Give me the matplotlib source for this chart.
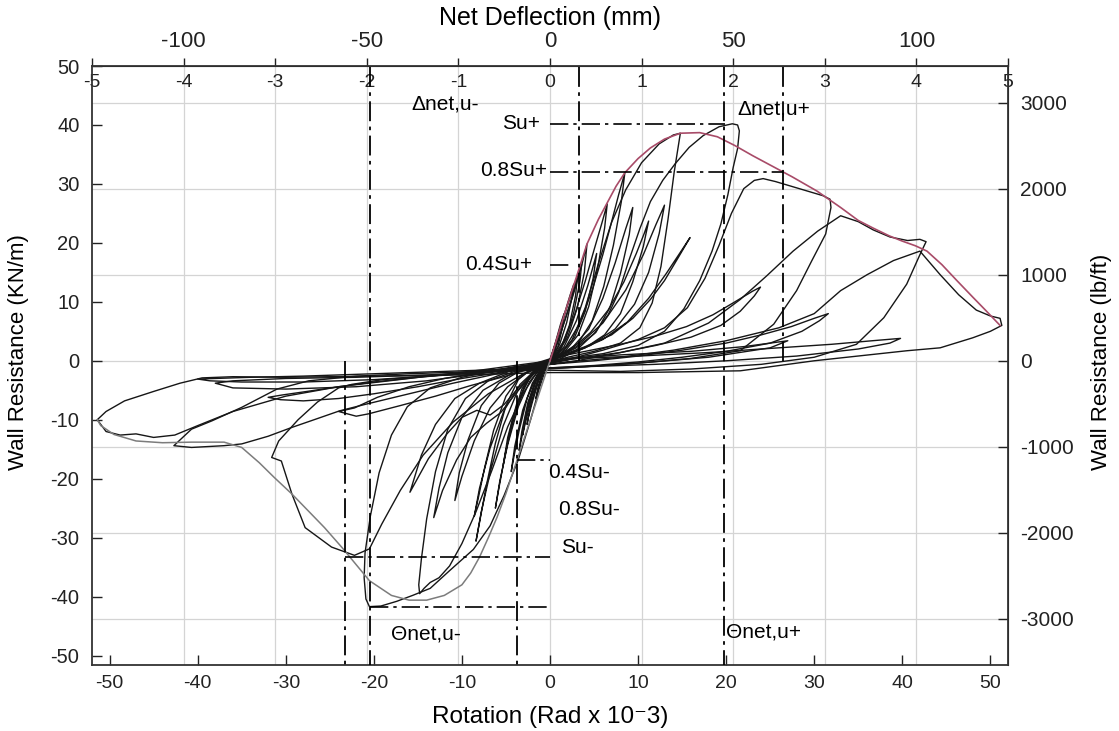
import matplotlib
matplotlib.use("Agg")
import matplotlib.pyplot as plt
from matplotlib import font_manager

# ---------------------------------------------------------------- fonts
available = {f.name for f in font_manager.fontManager.ttflist}
BASE = "Liberation Sans" if "Liberation Sans" in available else "DejaVu Sans"
plt.rcParams["font.family"] = [BASE, "DejaVu Sans"]
plt.rcParams["axes.unicode_minus"] = False

# ---------------------------------------------------------------- unit conversions
ROT_PER_IN = 10.4      # rotation (rad x 1e-3) per inch of net deflection
MM_PER_IN = 25.0
LBFT_PER_KNM = 68.52

# ---------------------------------------------------------------- axis ticks
rot_ticks = [-50, -40, -30, -20, -10, 0, 10, 20, 30, 40, 50]
kn_ticks = [-50, -40, -30, -20, -10, 0, 10, 20, 30, 40, 50]
mm_ticks = [-125, -100, -75, -50, -25, 0, 25, 50, 75, 100, 125]
mm_labels = ["", "-100", "", "-50", "", "0", "", "50", "", "100", ""]
inch_ticks = [-5, -4, -3, -2, -1, 0, 1, 2, 3, 4, 5]
lbft_ticks = [-3000, -2000, -1000, 0, 1000, 2000, 3000]

# ---------------------------------------------------------------- hysteresis cycles (rotation, resistance kN/m)
cycle_01 = [(0, 0), (0.8, 3.8), (1.6, 7.8), (2.3, 11.2), (2.7, 13.0), (2.5, 10.8), (1.9, 6.5), (1.1, 2.8),
            (0.3, 0.6), (-0.5, -0.8), (-1.3, -3.5), (-2.0, -7.0), (-2.5, -9.8), (-2.6, -10.8), (-2.2, -7.5),
            (-1.5, -3.8), (-0.7, -1.2), (0, 0)]
cycle_02 = [(0, 0.3), (1, 4.5), (2, 9.4), (3, 13.8), (3.6, 16.4), (3.4, 13.5), (2.7, 8.2), (1.8, 3.8),
            (0.8, 1.2), (-0.4, -0.5), (-1.4, -2.6), (-2.3, -6.8), (-3.0, -11.5), (-3.5, -15.2), (-3.2, -12.0),
            (-2.5, -7.0), (-1.6, -3.2), (-0.6, -0.9), (0.4, 0.9)]
cycle_03 = [(0.4, 0.9), (1.4, 5.6), (2.6, 11.0), (3.5, 15.6), (4.2, 19.8), (3.9, 15.0), (3.1, 9.0), (2.0, 4.0),
            (0.9, 1.3), (-0.3, -0.4), (-1.5, -2.5), (-2.6, -6.4), (-3.5, -11.8), (-4.1, -16.3), (-4.4, -18.8),
            (-4.0, -14.5), (-3.1, -8.4), (-2.0, -3.8), (-0.8, -1.0), (0.3, 0.5)]
cycle_04 = [(0.3, 0.5), (1.5, 3.2), (2.8, 7.8), (4.0, 13.5), (5.0, 18.8), (5.9, 23.4), (6.5, 26.6), (6.2, 22.5),
            (5.4, 15.6), (4.4, 9.2), (3.2, 4.4), (1.8, 1.8), (0.5, 0.6), (-0.8, -0.6), (-2.0, -2.0), (-3.2, -4.8),
            (-4.3, -10.2), (-5.2, -16.8), (-5.8, -21.6), (-6.2, -25.0), (-5.7, -20.4), (-4.8, -14.2), (-3.6, -7.8),
            (-2.3, -3.5), (-1.0, -1.2), (0.2, 0.1)]
cycle_05 = [(0.2, 0.1), (1.8, 2.4), (3.4, 6.4), (4.8, 12.0), (6.0, 18.0), (7.0, 23.6), (7.8, 28.2), (8.5, 31.9),
            (8.1, 27.0), (7.2, 19.6), (6.1, 12.6), (4.8, 6.8), (3.2, 3.0), (1.4, 1.2), (-0.4, 0.0), (-2.0, -1.2),
            (-3.6, -3.2), (-5.0, -7.6), (-6.2, -14.0), (-7.2, -21.0), (-7.9, -26.6), (-8.4, -30.6), (-7.8, -25.6),
            (-6.7, -18.4), (-5.3, -11.0), (-3.7, -5.2), (-2.0, -2.0), (-0.5, -0.4), (0.6, 0.4)]
cycle_06 = [(0.6, 0.4), (2.6, 2.2), (4.6, 4.8), (6.6, 8.6), (8.4, 13.4), (9.8, 18.2), (10.7, 21.6), (11.2, 23.7),
            (10.6, 19.4), (9.4, 13.4), (8.0, 8.0), (6.2, 4.4), (4.0, 2.2), (1.5, 0.8), (-1.0, -0.4), (-3.5, -1.8),
            (-5.8, -3.8), (-7.8, -7.6), (-9.3, -13.4), (-10.3, -19.0), (-10.8, -23.7), (-10.0, -19.6),
            (-8.6, -13.6), (-6.8, -8.0), (-4.8, -4.4), (-2.6, -2.0), (-0.4, -0.3), (0.8, 0.3)]
cycle_07 = [(0.8, 0.3), (2.5, 3.5), (4.0, 9.0), (5.5, 16.5), (7.0, 23.5), (8.6, 29.0), (10.4, 33.6), (12.4, 36.8),
            (14.0, 38.3), (14.8, 38.6), (14.1, 32.0), (13.4, 24.0), (12.6, 16.0), (11.6, 9.8), (10.2, 5.6),
            (8.0, 3.0), (5.0, 1.6), (2.0, 0.6), (-1.0, -0.6), (-4.0, -1.8), (-7.0, -3.4), (-9.6, -6.4),
            (-11.6, -11.6), (-13.0, -18.8), (-14.0, -26.8), (-14.6, -33.6), (-14.9, -38.0), (-14.8, -39.5),
            (-14.3, -38.6), (-13.6, -37.6), (-12.6, -36.8), (-11.4, -34.8), (-10.0, -31.0), (-8.4, -25.6),
            (-6.6, -18.6), (-4.8, -11.2), (-3.0, -5.4), (-1.4, -1.8), (0.0, 0.0)]
cycle_08 = [(0.0, 0.0), (3.0, 1.6), (6.0, 3.6), (8.8, 6.6), (11.2, 10.6), (13.2, 14.8), (14.8, 18.4), (15.9, 20.9),
            (14.6, 17.6), (13.0, 13.6), (11.4, 10.4), (9.4, 7.2), (7.0, 4.4), (4.0, 2.4), (1.0, 0.8), (-2.0, -0.6),
            (-5.0, -2.0), (-8.0, -3.8), (-10.8, -6.4), (-13.0, -10.8), (-14.6, -16.0), (-15.9, -22.3),
            (-13.8, -16.6), (-11.7, -12.4), (-10.0, -9.6), (-8.3, -8.4), (-6.8, -9.2), (-5.2, -7.4), (-3.6, -4.6),
            (-2.0, -2.4), (-0.4, -0.6), (1.0, 0.2)]
cycle_09 = [(1.0, 0.2), (3.0, 1.8), (5.0, 4.6), (6.6, 7.8), (7.8, 11.6), (9.0, 17.2), (10.2, 22.4), (11.4, 27.0),
            (12.8, 30.6), (14.2, 33.4), (15.8, 36.2), (17.4, 38.2), (19.2, 39.7), (20.7, 40.2), (21.3, 40.0),
            (21.5, 39.0), (21.3, 36.0), (20.8, 32.8), (20.2, 28.2), (19.4, 23.2), (18.4, 18.6), (17.0, 13.6),
            (15.2, 8.8), (13.0, 5.0), (10.0, 2.6), (6.0, 1.2), (2.0, 0.4), (-2.0, -0.6), (-6.0, -1.6),
            (-10.0, -2.8), (-13.6, -4.6), (-16.2, -7.8), (-18.0, -12.6), (-19.4, -19.0), (-20.4, -26.4),
            (-21.0, -32.6), (-21.1, -36.8), (-20.9, -40.4), (-20.5, -41.7), (-19.2, -41.6), (-17.4, -40.8),
            (-15.6, -39.8), (-13.6, -38.6), (-11.4, -35.6), (-8.7, -32.0), (-6.8, -28.0), (-5.2, -22.8),
            (-3.6, -16.8), (-2.2, -10.0), (-1.2, -4.6), (-0.4, -1.0), (0.6, 0.6)]
cycle_10 = [(0.6, 0.6), (4.0, 1.6), (8.0, 2.8), (12.0, 4.2), (15.5, 5.8), (18.5, 7.8), (21.0, 10.0), (23.0, 11.8),
            (23.9, 12.5), (23.2, 11.0), (21.6, 8.4), (19.4, 6.0), (16.0, 4.0), (12.0, 2.6), (8.0, 1.4), (4.0, 0.6),
            (0.0, -0.2), (-4.0, -1.0), (-8.0, -2.0), (-12.0, -3.0), (-16.0, -4.4), (-19.6, -6.2), (-22.2, -8.0),
            (-24.0, -8.6), (-23.0, -9.0), (-22.0, -9.4), (-20.6, -9.0), (-17.0, -7.6), (-13.0, -6.0),
            (-9.0, -4.2), (-5.0, -2.6), (-1.0, -0.8), (2.0, 0.2)]
cycle_11 = [(2.0, 0.2), (6.0, 1.8), (10.0, 3.6), (13.0, 5.6), (15.6, 9.0), (17.6, 14.0), (19.2, 19.6),
            (20.6, 25.0), (22.0, 29.2), (23.2, 30.6), (24.2, 30.9), (25.6, 30.4), (27.4, 29.6), (29.2, 28.8),
            (31.0, 28.0), (31.8, 27.4), (31.9, 26.0), (31.3, 21.5), (29.7, 16.9), (28.0, 11.9), (25.4, 6.2),
            (21.6, 1.7), (16.0, 0.4), (10.0, -0.4), (4.0, -1.0), (-2.0, -1.4), (-8.0, -2.0), (-14.0, -2.6),
            (-19.0, -3.2), (-22.5, -4.0), (-24.0, -4.6), (-26.4, -7.0), (-28.6, -10.0), (-30.8, -13.6),
            (-31.6, -16.4), (-30.5, -17.0), (-29.3, -22.6), (-27.8, -28.3), (-24.8, -31.6), (-22.2, -33.0),
            (-20.5, -31.9), (-19.1, -27.7), (-17.0, -22.0), (-14.4, -16.0), (-11.0, -10.4), (-7.0, -5.6),
            (-3.0, -2.2), (0.0, -0.6)]
cycle_12 = [(0.0, -0.6), (5.0, 0.0), (10.0, 0.8), (15.0, 1.8), (20.0, 3.0), (24.0, 4.4), (27.4, 5.8), (30.0, 7.2),
            (31.6, 8.0), (30.6, 6.8), (28.6, 5.0), (25.0, 3.0), (20.0, 1.6), (15.0, 0.6), (10.0, -0.2),
            (5.0, -0.8), (0.0, -1.2), (-5.0, -1.6), (-10.0, -2.2), (-15.0, -2.8), (-20.0, -3.6), (-24.0, -4.4),
            (-27.6, -5.2), (-30.4, -5.8), (-32.0, -6.2), (-30.6, -6.6), (-28.0, -6.8), (-24.0, -6.4),
            (-20.0, -5.6), (-15.0, -4.4), (-10.0, -3.0), (-5.0, -1.8), (0.0, -0.6), (3.0, 0.0)]
cycle_13 = [(3.0, 0.0), (8.0, 1.4), (13.0, 3.0), (18.0, 6.4), (21.6, 10.4), (24.6, 14.4), (27.6, 18.6),
            (30.4, 22.0), (33.0, 24.6), (35.0, 23.6), (36.7, 22.2), (38.6, 21.0), (40.6, 20.4), (42.0, 20.6),
            (42.7, 20.2), (42.0, 18.0), (40.5, 13.0), (37.9, 7.3), (34.8, 2.8), (30.0, 0.6), (24.0, -0.6),
            (16.0, -1.4), (8.0, -1.8), (0.0, -1.6), (-8.0, -1.8), (-16.0, -2.2), (-22.0, -2.6), (-27.4, -3.4),
            (-31.0, -4.8), (-35.0, -7.9), (-38.4, -10.2), (-40.7, -11.6), (-42.7, -14.4), (-40.7, -14.7),
            (-37.0, -14.4), (-35.0, -14.1), (-32.0, -12.8), (-29.3, -11.3), (-26.4, -9.8), (-23.9, -8.5),
            (-21.0, -7.4), (-16.0, -5.6), (-11.0, -3.8), (-6.0, -2.2), (-1.0, -0.6), (3.0, 0.4)]
cycle_14 = [(3.0, 0.4), (10.0, 0.8), (18.0, 1.4), (26.0, 2.2), (32.0, 2.8), (36.6, 3.4), (39.8, 3.8), (38.6, 3.0),
            (35.0, 2.0), (28.0, 0.8), (20.0, 0.0), (12.0, -0.6), (4.0, -1.0), (-4.0, -1.4), (-12.0, -1.8),
            (-20.0, -2.2), (-28.0, -2.6), (-34.0, -2.8), (-38.0, -3.0), (-40.0, -3.1), (-38.6, -3.4),
            (-35.0, -3.6), (-28.0, -3.6), (-20.0, -3.2), (-12.0, -2.4), (-4.0, -1.2), (2.0, -0.2)]
cycle_15 = [(2.0, -0.2), (8.0, 0.6), (14.0, 1.8), (20.0, 3.4), (26.0, 5.6), (30.0, 8.0), (33.0, 11.9),
            (36.0, 14.6), (39.0, 17.0), (42.0, 18.6), (44.3, 14.6), (46.4, 11.2), (48.4, 8.6), (50.0, 7.6),
            (51.1, 7.2), (51.3, 6.0), (50.0, 5.0), (48.0, 3.9), (44.3, 2.2), (40.5, 1.7), (30.0, 0.0),
            (21.6, -1.7), (10.0, -2.0), (0.0, -2.0), (-10.0, -2.4), (-20.0, -2.6), (-30.0, -2.8), (-36.0, -2.7),
            (-39.5, -2.9), (-42.0, -3.8), (-45.0, -5.2), (-48.3, -6.8), (-50.4, -8.6), (-51.4, -10.0),
            (-50.4, -12.0), (-48.8, -12.6), (-47.0, -12.4), (-45.0, -13.0), (-42.6, -12.6), (-40.0, -11.0),
            (-36.0, -8.6), (-30.0, -6.0), (-24.0, -4.4), (-16.0, -3.0), (-8.0, -1.6), (0.0, 0.0)]
cycle_16 = [(0, 0), (0.6, 3.0), (1.2, 6.2), (1.6, 8.0), (1.4, 5.6), (0.9, 2.4), (0.2, 0.4), (-0.6, -1.2),
            (-1.2, -4.0), (-1.6, -6.4), (-1.3, -4.2), (-0.7, -1.6), (0, 0)]
cycle_17 = [(0, -0.2), (1.2, 4.6), (2.4, 10.2), (3.1, 14.0), (2.9, 11.0), (2.2, 6.0), (1.2, 2.0), (0, 0.2),
            (-1.0, -1.8), (-2.0, -5.8), (-2.9, -11.2), (-3.1, -12.6), (-2.7, -8.8), (-1.8, -4.0), (-0.8, -1.2),
            (0.2, 0.2)]
cycle_18 = [(0.2, 0.2), (1.6, 2.4), (3.0, 6.8), (4.3, 12.8), (5.3, 18.2), (4.9, 14.0), (4.0, 8.4), (2.8, 4.0),
            (1.2, 1.2), (-0.4, -0.2), (-1.8, -1.6), (-3.0, -4.6), (-4.2, -10.4), (-5.0, -15.2), (-5.3, -17.6),
            (-4.8, -13.0), (-3.8, -7.4), (-2.4, -3.2), (-1.0, -0.8), (0.4, 0.4)]
cycle_19 = [(0.4, 0.4), (2.4, 2.0), (4.4, 5.4), (6.0, 10.6), (7.4, 16.6), (8.6, 22.4), (9.4, 26.0), (9.0, 21.4),
            (8.0, 14.8), (6.8, 9.0), (5.2, 4.8), (3.0, 2.2), (0.8, 0.6), (-1.4, -0.8), (-3.4, -2.6), (-5.0, -6.0),
            (-6.4, -11.8), (-7.4, -18.0), (-8.1, -23.0), (-8.6, -26.4), (-8.0, -21.6), (-6.8, -14.8),
            (-5.2, -8.4), (-3.4, -4.0), (-1.4, -1.2), (0.6, 0.2)]
cycle_20 = [(0.6, 0.2), (8, 1.0), (16, 1.6), (22, 2.4), (27, 3.4), (25, 2.2), (18, 0.6), (10, -0.4), (2, -1.2),
            (-6, -1.8), (-14, -2.4), (-22, -2.8), (-30, -3.0), (-36, -3.4), (-38, -3.8), (-36, -4.6), (-30, -4.8),
            (-22, -4.4), (-14, -3.4), (-6, -1.8), (0, -0.4)]
cycle_21 = [(0, 0), (3, 2.4), (6, 6.4), (8.6, 12), (10.6, 18), (12.0, 23), (13.0, 26.4), (12.4, 21.6),
            (11.2, 15.0), (9.6, 9.6), (7.4, 5.4), (4.6, 2.6), (1.6, 0.8), (-1.6, -0.6), (-4.6, -2.4), (-7.6, -5.0),
            (-10.0, -9.6), (-11.6, -15.6), (-12.6, -21.6), (-13.2, -26.6), (-12.2, -22.0), (-10.6, -16.8),
            (-9.0, -13.0), (-7.2, -10.6), (-5.6, -8.8), (-3.6, -5.0), (-1.6, -1.8), (0.2, 0)]
cycles = [cycle_01, cycle_02, cycle_03, cycle_04, cycle_05, cycle_06, cycle_07, cycle_08, cycle_09,
          cycle_10, cycle_11, cycle_12, cycle_13, cycle_14, cycle_15, cycle_16, cycle_17, cycle_18,
          cycle_19, cycle_20, cycle_21]

# backbone envelopes
envelope_pos_x = [0, 1, 2, 3, 4.2, 5.5, 6.5, 7.5, 8.5, 10, 11.4, 13, 14.8, 17, 19, 21, 23, 25, 27.5, 30.3,
                  33, 35, 36.7, 38.5, 40, 41.5, 42.8, 44.5, 46.2, 48, 49.5, 51.1]
envelope_pos_y = [0, 4.8, 9.6, 14.2, 19.8, 24, 26.8, 29.6, 31.9, 34.3, 36.1, 37.6, 38.6, 38.7, 38, 36.5, 34.8,
                  33.2, 31.2, 28.8, 26, 23.8, 22.5, 21.2, 20.3, 19.5, 18.6, 16.3, 13.6, 10.8, 8.5, 6.0]
envelope_neg_x = [0, -1, -2, -3, -4, -5, -6, -7, -8, -9, -10, -12, -14, -16, -18, -20.5, -23.6, -25.6, -29.3,
                  -31.3, -33, -35, -37, -40.7, -44, -47, -49.5, -51, -51.4]
envelope_neg_y = [0, -4.5, -9, -13.5, -18, -22.5, -26.5, -30, -33.3, -36, -38, -39.8, -40.6, -40.6, -39.8,
                  -37.3, -31.7, -28.3, -22.6, -19.8, -17.3, -14.7, -13.8, -13.8, -13.9, -13.6, -12.5, -11, -10]

# reference marks: (x, y_from, y_to) verticals and (y, x_from, x_to) horizontals
vertical_marks = [(-23.3, 0, -51.6), (-20.4, 49.8, -51.6), (-3.7, 0, -51.6),
                  (3.3, 49.8, 0), (19.7, 49.8, -51.6), (26.5, 49.8, 0)]
horizontal_marks = [(40.2, 0, 19.9), (32.1, 0, 26.5), (16.3, 0, 2.3),
                    (-16.8, -3.7, 0), (-33.3, -23.3, 0), (-41.8, -20.4, 0)]
mark_labels = [("Δnet,u-", -15.7, 43.6, "left"), ("Su+", -1.1, 40.3, "right"),
               ("0.8Su+", -0.35, 32.2, "right"), ("0.4Su+", -2.0, 16.4, "right"),
               ("Δnet,u+", 21.3, 42.7, "left"), ("0.4Su-", -0.2, -19.0, "left"),
               ("0.8Su-", 0.9, -25.3, "left"), ("Su-", 1.25, -31.6, "left"),
               ("Θnet,u-", -18.0, -46.3, "left"), ("Θnet,u+", 20.0, -46.0, "left")]

# ---------------------------------------------------------------- figure
fig = plt.figure(figsize=(11.19, 7.31), dpi=100)
ax = fig.add_axes([0.0822, 0.0903, 0.8186, 0.8194])
ax.set_xlim(-52, 52)
ax.set_ylim(-51.6, 49.8)

grid_kw = dict(color="#d4d4d4", lw=0.9, zorder=0)
for t in inch_ticks[1:-1]:
    ax.axvline(t * ROT_PER_IN, **grid_kw)
for t in lbft_ticks:
    ax.axhline(t / LBFT_PER_KNM, **grid_kw)

for cyc in cycles:
    xs = [p[0] for p in cyc]
    ys = [p[1] for p in cyc]
    ax.plot(xs, ys, color="#161616", lw=1.0, zorder=3, solid_joinstyle="round")
ax.plot(envelope_neg_x, envelope_neg_y, color="#7c7c7c", lw=1.1, zorder=4)
ax.plot(envelope_pos_x, envelope_pos_y, color="#a84b68", lw=1.2, zorder=5)

dash = (0, (11, 3, 2, 3))
for x, y0, y1 in vertical_marks:
    ax.plot([x, x], [y0, y1], color="black", lw=1.3, linestyle=dash, zorder=6)
for y, x0, x1 in horizontal_marks:
    ax.plot([x0, x1], [y, y], color="black", lw=1.2, linestyle=dash, zorder=6)
for txt, x, y, ha in mark_labels:
    ax.text(x, y, txt, ha=ha, va="center", fontsize=15, zorder=7)

# bottom / left axes
ax.set_xticks(rot_ticks)
ax.set_xticklabels([str(t) for t in rot_ticks], fontsize=14)
ax.set_yticks(kn_ticks)
ax.set_yticklabels([str(t) for t in kn_ticks], fontsize=14.5)
ax.tick_params(axis="both", direction="in", length=7, width=1.0, colors="#222222")
ax.tick_params(axis="x", pad=7)
ax.tick_params(axis="y", pad=9)
ax.tick_params(top=False, right=False)
for s in ax.spines.values():
    s.set_linewidth(1.3)
    s.set_color("#333333")

# top: net deflection in mm
sec_mm = ax.secondary_xaxis("top", functions=(lambda r: r * MM_PER_IN / ROT_PER_IN,
                                               lambda m: m * ROT_PER_IN / MM_PER_IN))
sec_mm.set_xticks(mm_ticks)
sec_mm.set_xticklabels(mm_labels, fontsize=16)
sec_mm.tick_params(direction="out", length=6, width=1.0, pad=4, colors="#222222")

# top inner labels: net deflection in inches
sec_in = ax.secondary_xaxis("top", functions=(lambda r: r / ROT_PER_IN, lambda i: i * ROT_PER_IN))
sec_in.set_xticks(inch_ticks)
sec_in.set_xticklabels([str(t) for t in inch_ticks], fontsize=14)
sec_in.tick_params(length=0, pad=-18, colors="#222222")
sec_in.spines["top"].set_visible(False)

# right: wall resistance in lb/ft
sec_lb = ax.secondary_yaxis("right", functions=(lambda k: k * LBFT_PER_KNM, lambda l: l / LBFT_PER_KNM))
sec_lb.set_yticks(lbft_ticks)
sec_lb.set_yticklabels([str(t) for t in lbft_ticks], fontsize=15)
sec_lb.tick_params(direction="in", length=7, width=1.0, pad=9, colors="#222222")

# axis titles
fig.text(550 / 1119, 1 - 18 / 731, "Net Deflection (mm)", ha="center", va="center", fontsize=18)
fig.text(550 / 1119, 1 - 717 / 731, "Rotation (Rad x 10⁻3)", ha="center", va="center", fontsize=17.5)
fig.text(19 / 1119, 1 - 352 / 731, "Wall Resistance (KN/m)", ha="center", va="center", rotation=90,
         fontsize=16)
fig.text(1101 / 1119, 1 - 362 / 731, "Wall Resistance (lb/ft)", ha="center", va="center", rotation=90,
         fontsize=16)

fig.savefig("out.png", dpi=100, facecolor="white")
